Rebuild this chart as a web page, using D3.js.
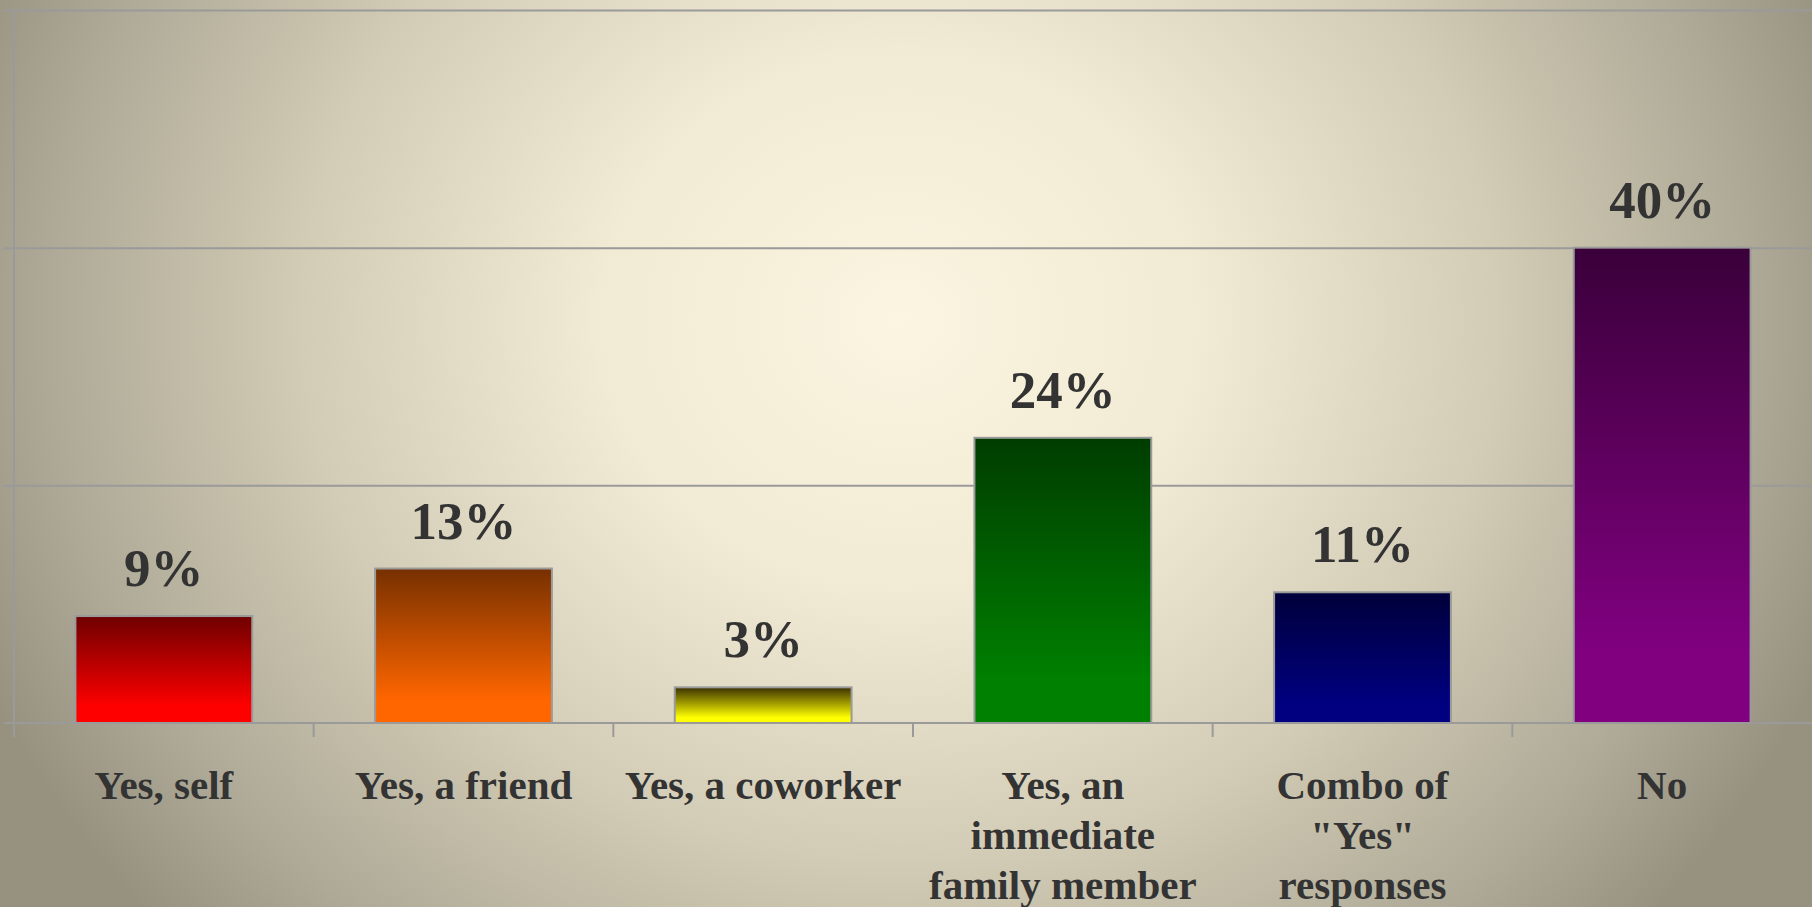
<!DOCTYPE html>
<html>
<head>
<meta charset="utf-8">
<script src="https://cdn.jsdelivr.net/npm/d3@7/dist/d3.min.js"></script>
<style>
  html, body { margin: 0; padding: 0; overflow: hidden; }
  svg { display: block; }
</style>
</head>
<body>
<script>
// Survey responses: share of respondents by answer
const categories = [
  ["Yes, self"],
  ["Yes, a friend"],
  ["Yes, a coworker"],
  ["Yes, an", "immediate", "family member"],
  ["Combo of", "\"Yes\"", "responses"],
  ["No"]
];
const values = [9, 13, 3, 24, 11, 40];
const yTicks = [0, 20, 40, 60];
// bar gradient colours: [top, bottom]
const barColors = [
  ["#6e0000", "#ff0000"],
  ["#763000", "#ff6600"],
  ["#3a3000", "#ffff00"],
  ["#003c00", "#008000"],
  ["#00003a", "#000080"],
  ["#3a003a", "#800080"]
];

const W = 1812, H = 907;
const left = 14, baseY = 723, topY = 10;

const svg = d3.select("body").append("svg")
  .attr("width", W).attr("height", H);
const defs = svg.append("defs");

// soft elliptical backdrop
const bg = defs.append("radialGradient")
  .attr("id", "bg")
  .attr("gradientUnits", "userSpaceOnUse")
  .attr("cx", 900).attr("cy", 320).attr("r", 1000)
  .attr("gradientTransform", "translate(900,320) scale(1,0.9) translate(-900,-320)");
[[0, "#fbf5e1"], [0.3, "#f1ead4"], [0.6, "#d2cbb5"], [0.85, "#aeaa97"], [1, "#97927f"]]
  .forEach(([o, c]) => bg.append("stop").attr("offset", o).attr("stop-color", c));
svg.append("rect").attr("width", W).attr("height", H).attr("fill", "url(#bg)");

barColors.forEach((c, i) => {
  const g = defs.append("linearGradient")
    .attr("id", "bar" + i).attr("x1", 0).attr("y1", 0).attr("x2", 0).attr("y2", 1);
  g.append("stop").attr("offset", 0).attr("stop-color", c[0]);
  g.append("stop").attr("offset", 0.85).attr("stop-color", c[1]);
  g.append("stop").attr("offset", 1).attr("stop-color", c[1]);
});

const x = d3.scaleBand()
  .domain(d3.range(categories.length))
  .range([left, W])
  .paddingInner(0.41)
  .paddingOuter(0.205);

const y = d3.scaleLinear().domain([0, 60]).range([baseY, topY]);

const gridColor = "#9a9a9a";

// horizontal grid lines with short ticks left of the axis
svg.append("g")
  .attr("transform", `translate(${left},0)`)
  .call(d3.axisLeft(y).tickValues(yTicks.slice(1)).tickSize(-(W - left)).tickSizeOuter(0).tickFormat(""))
  .call(g => g.select(".domain").remove())
  .call(g => g.selectAll(".tick line")
    .attr("stroke", gridColor).attr("stroke-width", 2).attr("x1", -11));

// vertical value axis
svg.append("line")
  .attr("x1", left).attr("x2", left)
  .attr("y1", y(60)).attr("y2", baseY + 14)
  .attr("stroke", gridColor).attr("stroke-width", 2);

// bars
svg.append("g").selectAll("rect")
  .data(values)
  .join("rect")
  .attr("x", (d, i) => x(i))
  .attr("y", d => y(d))
  .attr("width", x.bandwidth())
  .attr("height", d => y(0) - y(d))
  .attr("fill", (d, i) => `url(#bar${i})`)
  .attr("stroke", "#9a9a9a")
  .attr("stroke-width", 2);

// category axis: baseline with ticks between bands
svg.append("line")
  .attr("x1", 4).attr("x2", W)
  .attr("y1", baseY).attr("y2", baseY)
  .attr("stroke", gridColor).attr("stroke-width", 2);
svg.append("g").selectAll("line")
  .data(d3.range(1, categories.length))
  .join("line")
  .attr("x1", i => x(i) - x.step() * x.paddingInner() / 2)
  .attr("x2", i => x(i) - x.step() * x.paddingInner() / 2)
  .attr("y1", baseY).attr("y2", baseY + 14)
  .attr("stroke", gridColor).attr("stroke-width", 2);

const font = "'Liberation Serif', 'Times New Roman', serif";

// value labels
svg.append("g").selectAll("text")
  .data(values)
  .join("text")
  .attr("x", (d, i) => x(i) + x.bandwidth() / 2)
  .attr("y", d => y(d) - 30)
  .attr("text-anchor", "middle")
  .attr("font-family", font)
  .attr("font-weight", "bold")
  .attr("font-size", 53)
  .attr("fill", "#333333")
  .text(d => d + "%");

// category labels
const cat = svg.append("g").selectAll("text")
  .data(categories)
  .join("text")
  .attr("x", (d, i) => x(i) + x.bandwidth() / 2)
  .attr("y", 799)
  .attr("text-anchor", "middle")
  .attr("font-family", font)
  .attr("font-weight", "bold")
  .attr("font-size", 41)
  .attr("fill", "#333333");
cat.selectAll("tspan")
  .data(d => d)
  .join("tspan")
  .attr("x", function () { return d3.select(this.parentNode).attr("x"); })
  .attr("dy", (d, i) => i === 0 ? 0 : 50)
  .text(d => d);
</script>
</body>
</html>
